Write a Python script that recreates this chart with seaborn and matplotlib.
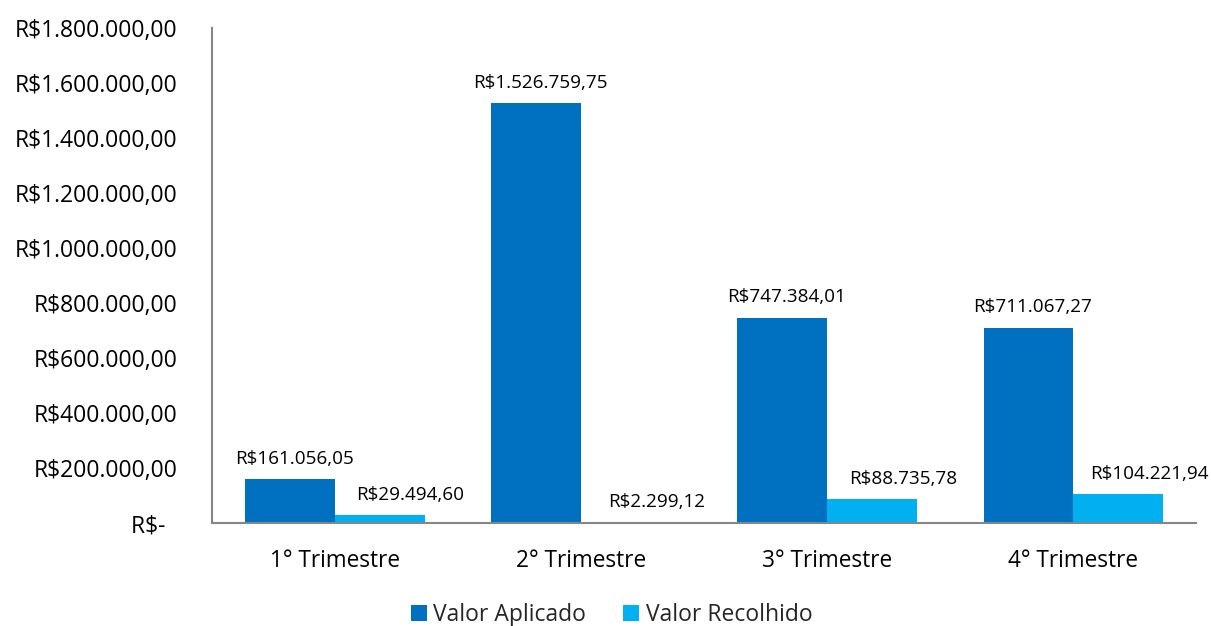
import pandas as pd
import seaborn as sns
import matplotlib.pyplot as plt
from matplotlib.patches import Patch

# Values (R$)
trimestres = ["1° Trimestre", "2° Trimestre", "3° Trimestre", "4° Trimestre"]
valor_aplicado = [161056.05, 1526759.75, 747384.01, 711067.27]
valor_recolhido = [29494.60, 2299.12, 88735.78, 104221.94]
series = ["Valor Aplicado", "Valor Recolhido"]
y_ticks = [0, 200000, 400000, 600000, 800000, 1000000, 1200000, 1400000, 1600000, 1800000]

colors = {"Valor Aplicado": "#0070C0", "Valor Recolhido": "#00B0F0"}


def brl(v):
    if v == 0:
        return "R$-  "
    s = f"{v:,.2f}".replace(",", "X").replace(".", ",").replace("X", ".")
    return "R$" + s


df = pd.DataFrame({
    "Trimestre": trimestres * 2,
    "Serie": [series[0]] * 4 + [series[1]] * 4,
    "Valor": valor_aplicado + valor_recolhido,
})

sns.set_style("white")
plt.rcParams["font.family"] = ["Open Sans", "DejaVu Sans"]

fig = plt.figure(figsize=(12.11, 6.26), dpi=100)
ax = fig.add_axes([0.175, 0.1645, 0.813, 0.7905])

sns.barplot(data=df, x="Trimestre", y="Valor", hue="Serie", order=trimestres,
            hue_order=series, palette=colors, width=0.73, saturation=1,
            edgecolor="none", linewidth=0, errorbar=None, legend=False, ax=ax)

ax.set_xlim(-0.5, 3.5)
ax.set_ylim(0, 1800000)
ax.set_yticks(y_ticks)
ax.set_yticklabels([brl(v) for v in y_ticks])
ax.set_xlabel("")
ax.set_ylabel("")
ax.tick_params(axis="y", length=0, pad=25, labelsize=16.5, colors="black")
ax.tick_params(axis="x", length=0, pad=19, labelsize=16.3, colors="black")

for side in ["top", "right"]:
    ax.spines[side].set_visible(False)
for side in ["left", "bottom"]:
    ax.spines[side].set_color("#868686")
    ax.spines[side].set_linewidth(1.5)

# data labels (the light-blue ones sit a bit to the right in the original)
x_shift = {"Valor Aplicado": 3, "Valor Recolhido": 22}
for container, name in zip(ax.containers, series):
    for bar in container:
        h = bar.get_height()
        ax.annotate(brl(h), (bar.get_x() + bar.get_width() / 2, h),
                    xytext=(x_shift[name], 8), textcoords="offset points",
                    ha="center", va="bottom", fontsize=13.6, color="black")

handles = [Patch(facecolor=colors[s], edgecolor="none") for s in series]
fig.legend(handles, series, loc="center", bbox_to_anchor=(0.505, 0.018), ncol=2,
           frameon=False, fontsize=16.5, handlelength=0.7, handleheight=0.7,
           handletextpad=0.3, columnspacing=1.6)

fig.savefig("out.png", dpi=100)
